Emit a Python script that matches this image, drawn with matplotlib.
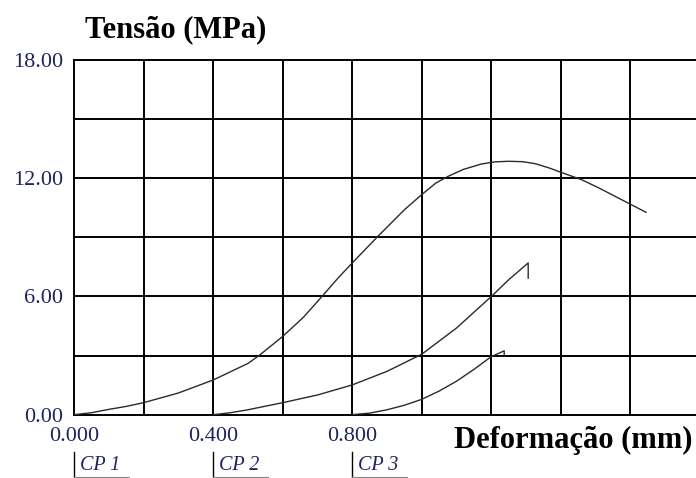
import matplotlib
matplotlib.use("Agg")
import matplotlib.pyplot as plt
import numpy as np

# ---- data (deformation relative to each specimen's origin, mm ; stress MPa)
cp_names = ["CP 1", "CP 2", "CP 3"]
cp_offsets = [0.0, 0.4, 0.8]

cp1_def = [0.0, 0.05, 0.1, 0.15, 0.2, 0.3, 0.4, 0.5, 0.532, 0.6, 0.66, 0.713, 0.76, 0.8,
           0.871, 0.95, 1.0, 1.04, 1.076, 1.12, 1.171, 1.21, 1.25, 1.29, 1.326, 1.37,
           1.4, 1.459, 1.51, 1.556, 1.6, 1.645]
cp1_str = [0.0, 0.1, 0.27, 0.42, 0.61, 1.1, 1.76, 2.6, 3.0, 3.97, 4.95, 6.0, 6.95, 7.7,
           9.0, 10.4, 11.17, 11.75, 12.1, 12.45, 12.72, 12.83, 12.86, 12.84, 12.74, 12.5,
           12.3, 11.93, 11.5, 11.08, 10.68, 10.27]

cp2_def = [0.0, 0.05, 0.1, 0.2, 0.3, 0.4, 0.5, 0.6, 0.7, 0.8, 0.85, 0.906, 0.906]
cp2_str = [0.0, 0.1, 0.25, 0.61, 1.0, 1.51, 2.2, 3.07, 4.4, 6.0, 6.85, 7.7, 6.93]

cp3_def = [0.0, 0.05, 0.1, 0.15, 0.2, 0.25, 0.3, 0.35, 0.4, 0.437, 0.437]
cp3_str = [0.0, 0.08, 0.25, 0.48, 0.78, 1.2, 1.7, 2.3, 2.95, 3.24, 3.0]

x_ticks = [0.0, 0.4, 0.8]
x_ticklabels = ["0.000", "0.400", "0.800"]
y_ticks = [0, 6, 12, 18]
y_ticklabels = ["0.00", "6.00", "12.00", "18.00"]
x_grid = [0.2, 0.4, 0.6, 0.8, 1.0, 1.2, 1.4, 1.6]
y_grid = [3, 6, 9, 12, 15]

serif = ["Liberation Serif", "DejaVu Serif"]
label_color = "#1e2460"

W, H = 696, 478
fig = plt.figure(figsize=(W / 100, H / 100), dpi=100)
left, bottom, top, right = 74, 414.7, 60, 700
ax = fig.add_axes([left / W, 1 - bottom / H, (right - left) / W, (bottom - top) / H])
ax.set_xlim(0, 1.8)
ax.set_ylim(0, 18)

for gx in x_grid:
    ax.axvline(gx, color="black", lw=1.4, zorder=1)
for gy in y_grid:
    ax.axhline(gy, color="black", lw=1.4, zorder=1)
for s in ax.spines.values():
    s.set_linewidth(1.4)
    s.set_color("black")

series = [(cp1_def, cp1_str), (cp2_def, cp2_str), (cp3_def, cp3_str)]
for (d, s), off in zip(series, cp_offsets):
    ax.plot(np.array(d) + off, s, color="#2a2a2a", lw=1.0, zorder=3)

ax.set_xticks(x_ticks)
ax.set_xticklabels(x_ticklabels)
ax.set_yticks(y_ticks)
ax.set_yticklabels(y_ticklabels)
ax.tick_params(length=0, labelsize=16, labelcolor=label_color)
for lab in ax.get_xticklabels() + ax.get_yticklabels():
    lab.set_fontfamily(serif)
ax.tick_params(axis="x", pad=9)
ax.tick_params(axis="y", pad=8)

fig.text(85 / W, 1 - 30 / H, "Tensão (MPa)", family=serif, weight="bold",
         fontsize=22, ha="left", va="center", color="black")
fig.text(693 / W, 1 - 440 / H, "Deformação (mm)", family=serif, weight="bold",
         fontsize=22, ha="right", va="center", color="black")

# specimen markers
for name, off in zip(cp_names, cp_offsets):
    xp = left + off / 1.8 * (right - left)
    fig.add_artist(plt.Line2D([xp / W, xp / W], [1 - 452 / H, 0.0], color="black", lw=1.0))
    fig.add_artist(plt.Line2D([xp / W, (xp + 55) / W], [1 - 477 / H, 1 - 477 / H],
                              color="#888888", lw=0.8))
    fig.text((xp + 6) / W, 1 - 465 / H, name, family=serif, style="italic",
             fontsize=14.5, ha="left", va="center", color=label_color)

fig.savefig("out.png", dpi=100)
